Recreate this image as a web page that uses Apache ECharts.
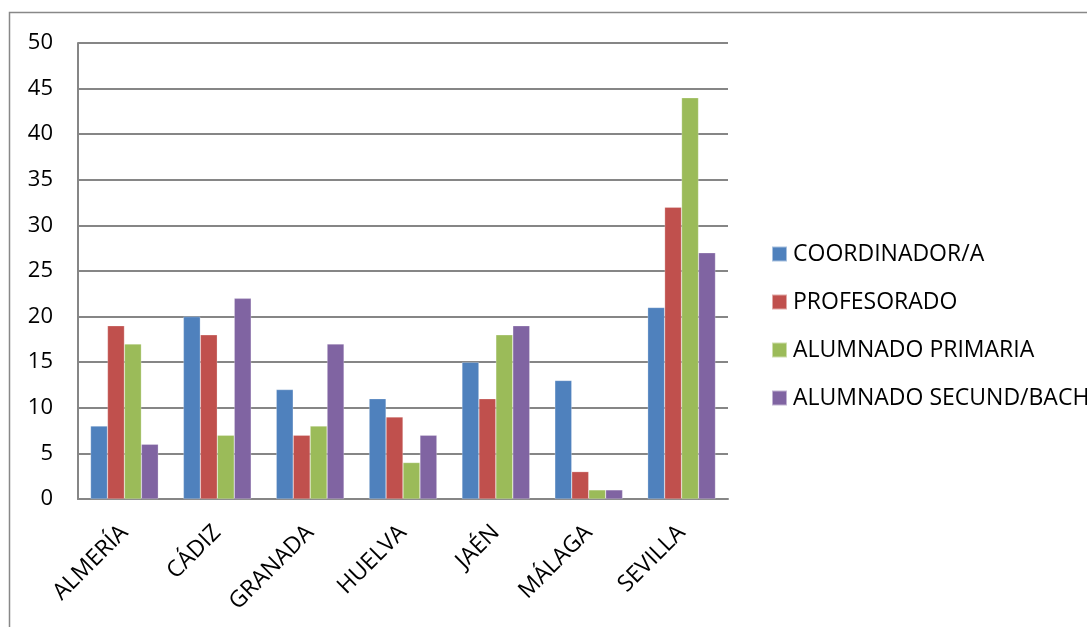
<!DOCTYPE html>
<html><head><meta charset="utf-8">
<script src="https://cdn.jsdelivr.net/npm/echarts@6/dist/echarts.min.js"></script>
<style>html,body{margin:0;padding:0;background:#fff}#c{width:1087px;height:627px}</style>
</head><body><div id="c"></div>
<script>
const categories = ['ALMERÍA','CÁDIZ','GRANADA','HUELVA','JAÉN','MÁLAGA','SEVILLA'];
const coordinador = [8,20,12,11,15,13,21];
const profesorado = [19,18,7,9,11,3,32];
const primaria = [17,7,8,4,18,1,44];
const secundaria = [6,22,17,7,19,1,27];
const seriesNames = ['COORDINADOR/A','PROFESORADO','ALUMNADO PRIMARIA','ALUMNADO SECUND/BACH'];
const colors = ['#4F81BD','#C0504D','#9BBB59','#8064A2'];
const font = '"Open Sans", "Noto Sans", sans-serif';
const chart = echarts.init(document.getElementById('c'));
const mk = (name, data, i) => ({
  name, type:'bar', data, barGap:'0%', barCategoryGap:'27%',
  itemStyle:{color:colors[i], borderColor:'rgba(255,255,255,0.5)', borderWidth:0.5},
  emphasis:{disabled:true}
});
chart.setOption({
  animation:false,
  color: colors,
  graphic:[{type:'rect', shape:{x:9.5,y:12.5,width:1100,height:700}, style:{fill:'none', stroke:'#888', lineWidth:1.5}, silent:true}],
  grid:{left:78, top:43, right:359, bottom:128, containLabel:false},
  legend:{orient:'vertical', left:766, top:237, itemWidth:15, itemHeight:15, itemGap:24, icon:'rect',
    textStyle:{fontFamily:font, fontSize:23, lineHeight:24, color:'#000', padding:[0,0,0,1]},
    data:seriesNames},
  xAxis:{type:'category', data:categories,
    axisLine:{lineStyle:{color:'#868686', width:2}}, axisTick:{show:false},
    axisLabel:{rotate:45, fontFamily:font, fontSize:23, color:'#000', margin:30, interval:0}},
  yAxis:{type:'value', min:0, max:50, interval:5,
    axisLine:{show:true, lineStyle:{color:'#868686', width:2}}, axisTick:{show:false},
    splitLine:{lineStyle:{color:'#868686', width:2}},
    axisLabel:{fontFamily:font, fontSize:22, color:'#000', margin:25}},
  series:[mk(seriesNames[0],coordinador,0), mk(seriesNames[1],profesorado,1), mk(seriesNames[2],primaria,2), mk(seriesNames[3],secundaria,3)]
});
</script></body></html>
